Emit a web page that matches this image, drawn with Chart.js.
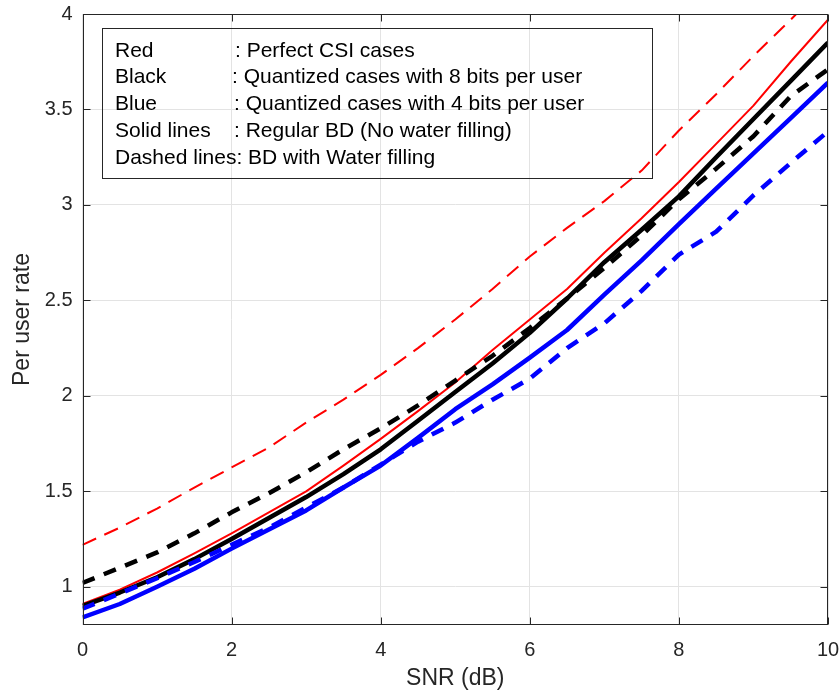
<!DOCTYPE html>
<html>
<head>
<meta charset="utf-8">
<script src="https://cdn.jsdelivr.net/npm/chart.js@4/dist/chart.umd.min.js"></script>
<style>
  html, body { margin: 0; padding: 0; background: #fff; }
  #c { display: block; }
</style>
</head>
<body>
<canvas id="c" width="840" height="695"></canvas>
<script>
// SNR sample points (dB)
const snr = [0, 0.5, 1, 1.5, 2, 2.5, 3, 3.5, 4, 4.5, 5, 5.5, 6, 6.5, 7, 7.5, 8, 8.5, 9, 9.5, 10];

// Per user rate, perfect CSI
const redSolid  = [0.91, 0.985, 1.075, 1.175, 1.28, 1.39, 1.50, 1.635, 1.775, 1.92, 2.07, 2.24, 2.40, 2.56, 2.75, 2.93, 3.12, 3.32, 3.52, 3.75, 3.97];
const redDashed = [1.22, 1.31, 1.41, 1.52, 1.625, 1.73, 1.86, 1.98, 2.11, 2.25, 2.40, 2.56, 2.73, 2.88, 3.02, 3.18, 3.39, 3.58, 3.78, 3.97, 4.17];

// Per user rate, 8 bits per user
const blackSolid  = [0.90, 0.97, 1.05, 1.145, 1.25, 1.36, 1.47, 1.59, 1.72, 1.87, 2.02, 2.17, 2.33, 2.51, 2.70, 2.87, 3.045, 3.25, 3.45, 3.65, 3.85];
const blackDashed = [1.02, 1.10, 1.18, 1.28, 1.39, 1.49, 1.60, 1.72, 1.83, 1.95, 2.08, 2.21, 2.355, 2.51, 2.67, 2.84, 3.03, 3.19, 3.36, 3.57, 3.71];

// Per user rate, 4 bits per user
const blueSolid  = [0.84, 0.91, 1.00, 1.095, 1.20, 1.30, 1.40, 1.52, 1.635, 1.78, 1.93, 2.06, 2.20, 2.345, 2.53, 2.71, 2.90, 3.085, 3.27, 3.455, 3.64];
const blueDashed = [0.885, 0.965, 1.045, 1.13, 1.22, 1.31, 1.415, 1.52, 1.64, 1.76, 1.86, 1.98, 2.09, 2.25, 2.38, 2.55, 2.74, 2.86, 3.05, 3.22, 3.385];

// Axis ticks
const xTicks = [0, 2, 4, 6, 8, 10];
const yTicks = [1, 1.5, 2, 2.5, 3, 3.5, 4];

// Annotation box rows: [left label, description]
const noteLabels = ['Red', 'Black', 'Blue', 'Solid lines', 'Dashed lines'];
const noteTexts  = [': Perfect CSI cases', ': Quantized cases with 8 bits per user', ': Quantized cases with 4 bits per user', ': Regular BD (No water filling)', ': BD with Water filling'];

const FONT = '"Liberation Sans", Arial, Helvetica, sans-serif';
const AXIS_COLOR = '#262626';

const pts = ys => snr.map((x, i) => ({ x, y: ys[i] }));

function series(ys, color, width, dash) {
  return {
    data: pts(ys),
    borderColor: color,
    borderWidth: width,
    borderDash: dash || [],
    pointRadius: 0,
    pointHoverRadius: 0,
    tension: 0,
    fill: false,
    borderCapStyle: 'butt',
    borderJoinStyle: 'round'
  };
}

// Frame, inward tick marks and the annotation box
const framePlugin = {
  id: 'frame',
  afterDatasetsDraw(chart) {
    const { ctx, chartArea: a, scales: { x, y } } = chart;
    ctx.save();
    ctx.strokeStyle = AXIS_COLOR;
    ctx.lineWidth = 1;
    const L = Math.round(a.left) + 0.5, R = Math.round(a.right) - 0.5;
    const T = Math.round(a.top) + 0.5, B = Math.round(a.bottom) - 0.5;
    ctx.strokeRect(L, T, R - L, B - T);
    const tl = 7;
    ctx.beginPath();
    xTicks.forEach(v => {
      const px = Math.round(x.getPixelForValue(v)) + 0.5;
      ctx.moveTo(px, B); ctx.lineTo(px, B - tl);
      ctx.moveTo(px, T); ctx.lineTo(px, T + tl);
    });
    yTicks.forEach(v => {
      const py = Math.round(y.getPixelForValue(v)) + 0.5;
      ctx.moveTo(L, py); ctx.lineTo(L + tl, py);
      ctx.moveTo(R, py); ctx.lineTo(R - tl, py);
    });
    ctx.stroke();

    // annotation box
    ctx.strokeStyle = AXIS_COLOR;
    ctx.strokeRect(102.5, 28.5, 550, 150);
    ctx.fillStyle = '#000';
    ctx.font = '21px ' + FONT;
    ctx.textBaseline = 'alphabetic';
    ctx.textAlign = 'left';
    const baselines = [56.5, 83.3, 110, 136.8, 163.5];
    const colonX = [235, 232, 234, 234, null];
    noteLabels.forEach((lab, i) => {
      if (colonX[i] === null) {
        ctx.fillText(lab + noteTexts[i], 115, baselines[i]);
      } else {
        ctx.fillText(lab, 115, baselines[i]);
        ctx.fillText(noteTexts[i], colonX[i], baselines[i]);
      }
    });
    ctx.restore();
  }
};

new Chart(document.getElementById('c'), {
  type: 'line',
  data: {
    datasets: [
      series(blueDashed, '#0000ff', 4.5, [13, 10]),
      series(blueSolid, '#0000ff', 4.5),
      series(blackDashed, '#000000', 4.5, [13, 10]),
      series(blackSolid, '#000000', 4.5),
      series(redDashed, '#ff0000', 2, [15, 9]),
      series(redSolid, '#ff0000', 2)
    ]
  },
  options: {
    responsive: false,
    animation: false,
    events: [],
    layout: { padding: { left: 9, right: 12, top: 14, bottom: 3 } },
    plugins: { legend: { display: false }, tooltip: { enabled: false } },
    scales: {
      x: {
        type: 'linear',
        min: 0, max: 10,
        afterFit: s => { s.height = 67; s.paddingLeft = 0; s.paddingRight = 0; },
        afterBuildTicks: s => { s.ticks = xTicks.map(v => ({ value: v })); },
        grid: { color: '#e3e3e3', lineWidth: 1, drawTicks: false },
        border: { display: false },
        ticks: { autoSkip: false, maxRotation: 0, padding: 13, color: AXIS_COLOR, font: { family: FONT, size: 20 } },
        title: { display: true, text: 'SNR (dB)', color: AXIS_COLOR, padding: 0, font: { family: FONT, size: 23 } }
      },
      y: {
        type: 'linear',
        min: 0.8, max: 4,
        afterFit: s => { s.width = 73.5; s.paddingTop = 0; s.paddingBottom = 0; },
        afterBuildTicks: s => { s.ticks = yTicks.map(v => ({ value: v })); },
        grid: { color: '#e3e3e3', lineWidth: 1, drawTicks: false },
        border: { display: false },
        ticks: { autoSkip: false, padding: 10, color: AXIS_COLOR, font: { family: FONT, size: 20 }, callback: v => String(v) },
        title: { display: true, text: 'Per user rate', color: AXIS_COLOR, padding: 0, font: { family: FONT, size: 23 } }
      }
    }
  },
  plugins: [framePlugin]
});
</script>
</body>
</html>
